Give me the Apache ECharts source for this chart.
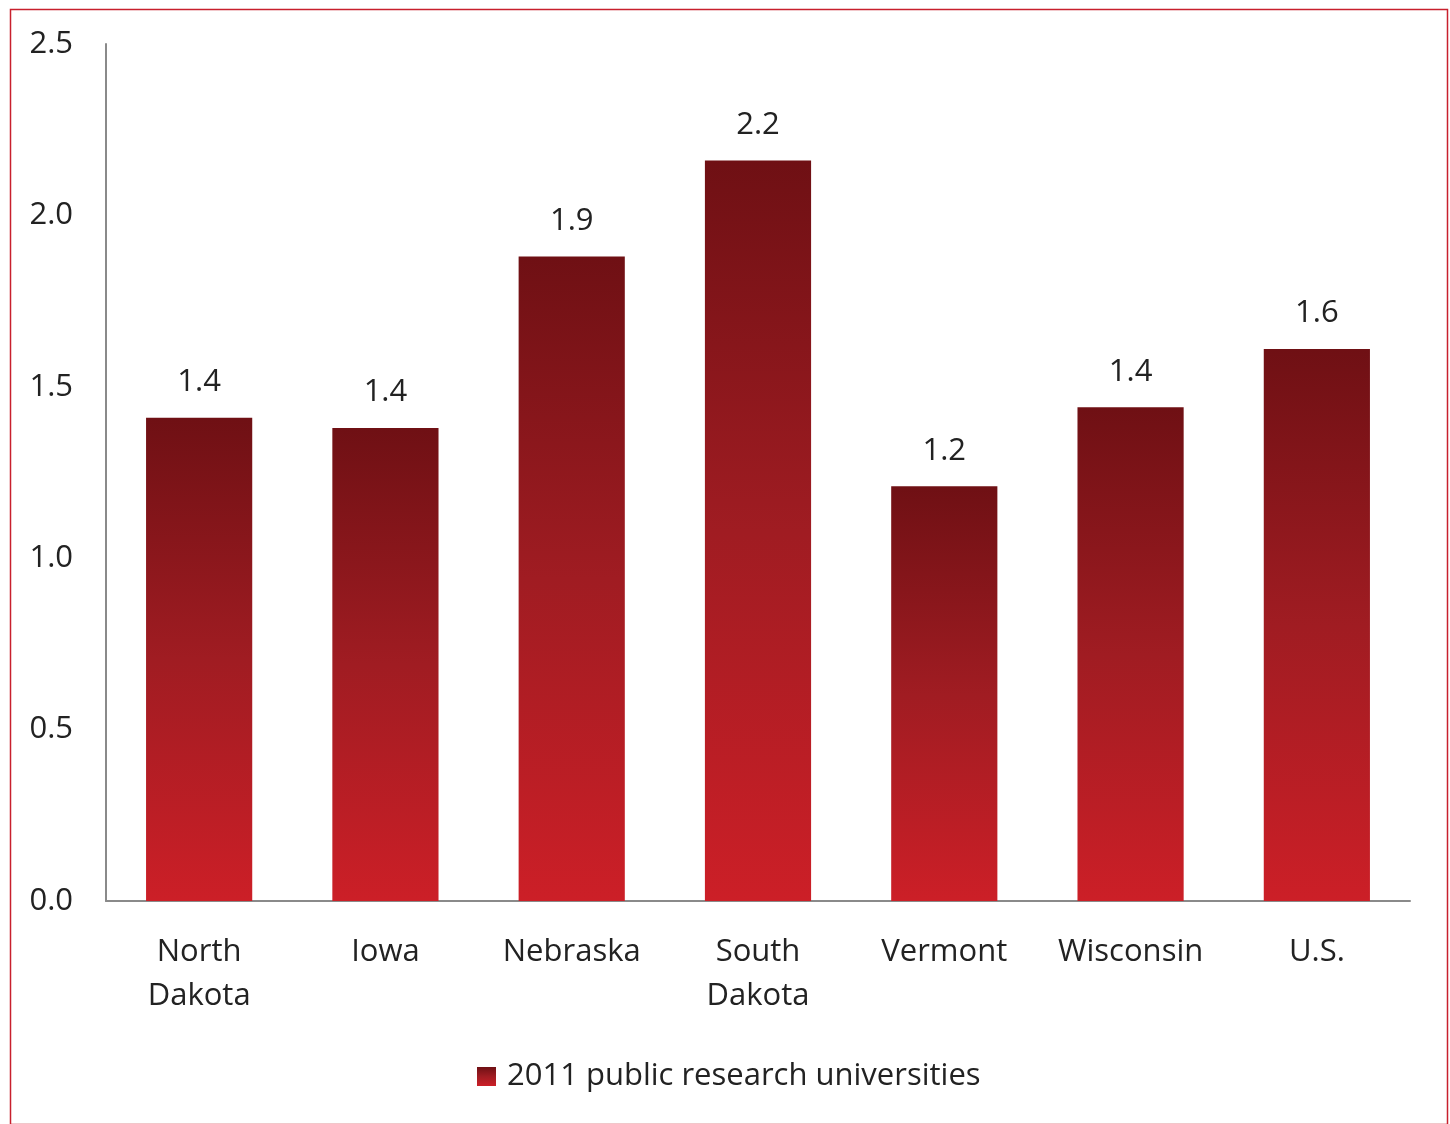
<!DOCTYPE html>
<html><head><meta charset="utf-8">
<script src="https://cdn.jsdelivr.net/npm/echarts@6/dist/echarts.min.js"></script>
<style>html,body{margin:0;padding:0;background:#fff}#c{width:1450px;height:1124px}</style>
</head><body><div id="c"></div>
<script>
const categories = ['North\nDakota', 'Iowa', 'Nebraska', 'South\nDakota', 'Vermont', 'Wisconsin', 'U.S.'];
const values = [1.41, 1.38, 1.88, 2.16, 1.21, 1.44, 1.61];
const seriesName = '2011 public research universities';
const yTicks = { min: 0, max: 2.5, interval: 0.5 };

const font = '"Open Sans", "Noto Sans", sans-serif';
const fs = 31;
const grad = new echarts.graphic.LinearGradient(0, 0, 0, 1, [
  { offset: 0, color: '#6f1014' },
  { offset: 0.5, color: '#a01c22' },
  { offset: 1, color: '#cc1f27' }
]);
const chart = echarts.init(document.getElementById('c'), null, { renderer: 'canvas' });
chart.setOption({
  backgroundColor: '#fff',
  animation: false,
  graphic: [{
    type: 'rect', left: 8, top: 7, shape: { width: 1437, height: 1115 },
    style: { fill: 'none', stroke: '#c8202d', lineWidth: 1.5 }, silent: true
  }],
  grid: { left: 106, right: 40, top: 44, bottom: 223, containLabel: false },
  legend: {
    bottom: 27, left: 472, itemWidth: 19, itemHeight: 19, itemGap: 10,
    textStyle: { fontFamily: font, fontSize: fs, color: '#222', padding: [0, 0, 0, 6] },
    data: [{ name: seriesName, icon: 'rect' }]
  },
  xAxis: {
    type: 'category', data: categories,
    axisLine: { lineStyle: { color: '#8a8a8a', width: 2 } },
    axisTick: { show: false },
    axisLabel: { fontFamily: font, fontSize: fs, color: '#222', margin: 29, lineHeight: 44, interval: 0 }
  },
  yAxis: {
    type: 'value', min: yTicks.min, max: yTicks.max, interval: yTicks.interval,
    axisLine: { show: true, lineStyle: { color: '#8a8a8a', width: 2 } },
    axisTick: { show: false },
    splitLine: { show: false },
    axisLabel: { fontFamily: font, fontSize: fs, color: '#222', margin: 33, formatter: v => v.toFixed(1) }
  },
  series: [{
    name: seriesName, type: 'bar', data: values, barWidth: '57%',
    itemStyle: { color: grad },
    label: { show: true, position: 'top', distance: 20, fontFamily: font, fontSize: fs, color: '#222', formatter: p => p.value.toFixed(1) }
  }]
});
</script></body></html>
